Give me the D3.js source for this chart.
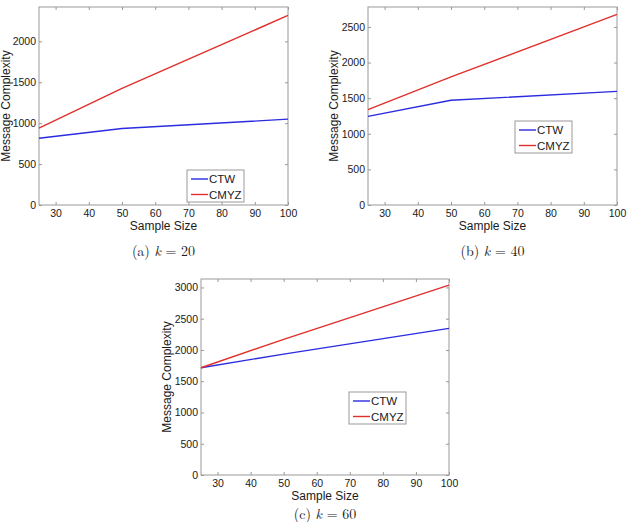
<!DOCTYPE html>
<html>
<head>
<meta charset="utf-8">
<script src="https://cdn.jsdelivr.net/npm/d3@7"></script>
<style>
  body { margin: 0; background: #fff; }
  svg { display: block; }
  text { font-family: "Liberation Sans", Arial, sans-serif; fill: #1a1a1a; }
  .cap { font-family: "Latin Modern Roman", "DejaVu Serif", "Liberation Serif", serif; font-size: 14px; }
</style>
</head>
<body>
<div id="fig"></div>
<script>
// values
const sampleSizes = [25, 50, 100];
const xTicks = [30, 40, 50, 60, 70, 80, 90, 100];

const ctwK20 = [816, 935, 1049];
const cmyzK20 = [939, 1425, 2317];
const yTicksK20 = [0, 500, 1000, 1500, 2000];

const ctwK40 = [1245, 1470, 1596];
const cmyzK40 = [1339, 1798, 2676];
const yTicksK40 = [0, 500, 1000, 1500, 2000, 2500];

const ctwK60 = [1716, 1934, 2345];
const cmyzK60 = [1716, 2170, 3037];
const yTicksK60 = [0, 500, 1000, 1500, 2000, 2500, 3000];

const seriesNames = ['CTW', 'CMYZ'];
const captions = ['(a) ', '(b) ', '(c) '];
const kValues = [20, 40, 60];

const colors = {CTW: '#2b2be0', CMYZ: '#e0302b'};

const W = 627, H = 522;
const svg = d3.select('#fig').append('svg').attr('width', W).attr('height', H);

// layout of each panel (pixels)
const panels = [
  {left: 39, right: 288, top: 7, bottom: 205, yMax: 2420, ctw: ctwK20, cmyz: cmyzK20, yTicks: yTicksK20,
   legend: {x: 187, y: 170, w: 57, h: 32}, ylabX: 10, cap: 0},
  {left: 368, right: 617, top: 7, bottom: 205, yMax: 2780, ctw: ctwK40, cmyz: cmyzK40, yTicks: yTicksK40,
   legend: {x: 515, y: 121, w: 57, h: 32}, ylabX: 338, cap: 1},
  {left: 201, right: 449, top: 279, bottom: 475, yMax: 3135, ctw: ctwK60, cmyz: cmyzK60, yTicks: yTicksK60,
   legend: {x: 349, y: 392, w: 57, h: 32}, ylabX: 171, cap: 2}
];

panels.forEach(p => {
  const g = svg.append('g');
  const x = d3.scaleLinear().domain([25, 100]).range([p.left, p.right]);
  const y = d3.scaleLinear().domain([0, p.yMax]).range([p.bottom, p.top]);
  const fmt = d3.format('d');

  // ticks inside the box on all four sides
  const tl = 3;
  g.append('g').attr('transform', `translate(0,${p.bottom})`)
    .call(d3.axisBottom(x).tickValues(xTicks).tickSize(-tl).tickPadding(5).tickFormat(fmt))
    .call(a => a.select('.domain').remove());
  g.append('g').attr('transform', `translate(0,${p.top})`)
    .call(d3.axisTop(x).tickValues(xTicks).tickSize(-tl).tickFormat(''))
    .call(a => a.select('.domain').remove());
  g.append('g').attr('transform', `translate(${p.left},0)`)
    .call(d3.axisLeft(y).tickValues(p.yTicks).tickSize(-tl).tickPadding(3).tickFormat(fmt))
    .call(a => a.select('.domain').remove());
  g.append('g').attr('transform', `translate(${p.right},0)`)
    .call(d3.axisRight(y).tickValues(p.yTicks).tickSize(-tl).tickFormat(''))
    .call(a => a.select('.domain').remove());

  g.selectAll('.tick line').attr('stroke', '#999');
  g.selectAll('.tick text').style('font-size', '10.5px').attr('fill', '#1a1a1a')
    .style('font-family', '"Liberation Sans", Arial, sans-serif');

  g.append('rect')
    .attr('x', p.left).attr('y', p.top)
    .attr('width', p.right - p.left).attr('height', p.bottom - p.top)
    .attr('fill', 'none').attr('stroke', '#999').attr('stroke-width', 1);

  const line = d3.line().x((d, i) => x(sampleSizes[i])).y(d => y(d));
  g.append('path').datum(p.ctw).attr('d', line)
    .attr('fill', 'none').attr('stroke', colors.CTW).attr('stroke-width', 1.4);
  g.append('path').datum(p.cmyz).attr('d', line)
    .attr('fill', 'none').attr('stroke', colors.CMYZ).attr('stroke-width', 1.4);

  // axis labels
  g.append('text')
    .attr('x', (p.left + p.right) / 2).attr('y', p.bottom + 25)
    .attr('text-anchor', 'middle').style('font-size', '12px')
    .text('Sample Size');
  g.append('text')
    .attr('transform', `translate(${p.ylabX},${(p.top + p.bottom) / 2}) rotate(-90)`)
    .attr('text-anchor', 'middle').style('font-size', '12px')
    .text('Message Complexity');

  // legend
  const L = p.legend;
  const lg = g.append('g');
  lg.append('rect').attr('x', L.x).attr('y', L.y).attr('width', L.w).attr('height', L.h)
    .attr('fill', '#fff').attr('stroke', '#999');
  seriesNames.forEach((name, i) => {
    const yy = L.y + 9 + i * 15.5;
    lg.append('line').attr('x1', L.x + 4).attr('x2', L.x + 21).attr('y1', yy).attr('y2', yy)
      .attr('stroke', colors[name]).attr('stroke-width', 1.4);
    lg.append('text').attr('x', L.x + 22).attr('y', yy + 4)
      .style('font-size', '11.5px').text(name);
  });

  // caption (kept inside the page for the bottom panel)
  const cap = svg.append('text').attr('class', 'cap')
    .attr('x', (p.left + p.right) / 2).attr('y', Math.min(p.bottom + 51, H - 3))
    .attr('text-anchor', 'middle');
  cap.append('tspan').text(captions[p.cap]);
  cap.append('tspan').style('font-style', 'italic').text('k');
  cap.append('tspan').text(' = ' + kValues[p.cap]);
});
</script>
</body>
</html>
